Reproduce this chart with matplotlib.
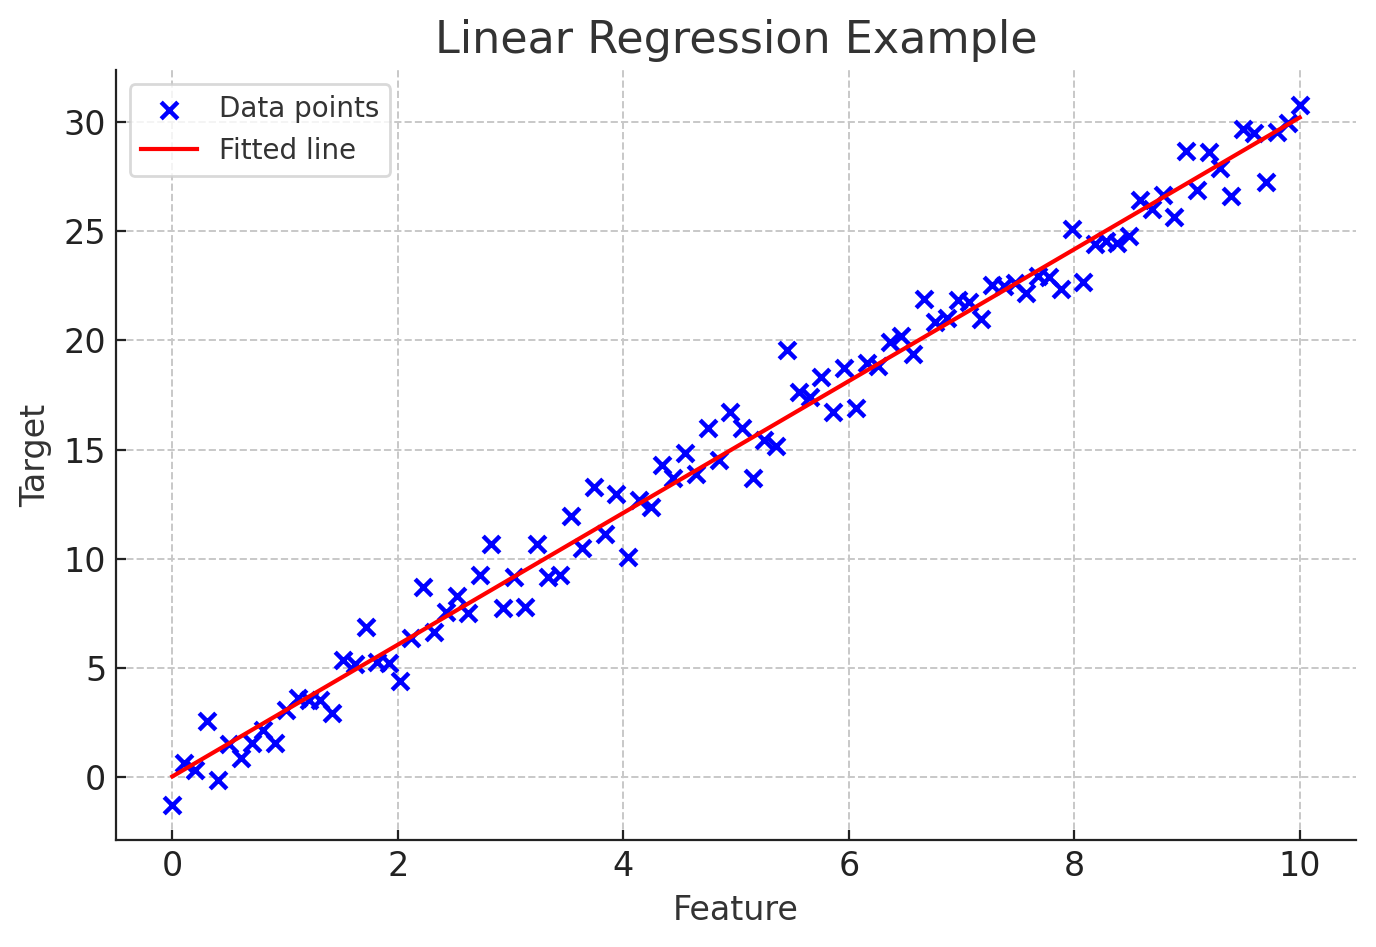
import numpy as np
import matplotlib
matplotlib.use("Agg")
import matplotlib.pyplot as plt

x_start, x_end, n_points = 0.0, 10.0, 100
target = [
    -1.28, 0.64, 0.32, 2.57, -0.14, 1.51, 0.87, 1.56, 2.15, 1.56,
    3.07, 3.62, 3.53, 3.53, 2.93, 5.36, 5.18, 6.87, 5.27, 5.22,
    4.40, 6.37, 8.70, 6.64, 7.56, 8.29, 7.51, 9.25, 10.67, 7.74,
    9.16, 7.79, 10.67, 9.16, 9.25, 11.96, 10.49, 13.28, 11.13, 12.96,
    10.08, 12.69, 12.37, 14.29, 13.70, 14.84, 13.88, 15.99, 14.52, 16.72,
    15.99, 13.70, 15.44, 15.16, 19.56, 17.64, 17.41, 18.32, 16.72, 18.74,
    16.90, 18.97, 18.83, 19.93, 20.20, 19.38, 21.90, 20.84, 21.03, 21.85,
    21.76, 20.98, 22.54, 22.49, 22.63, 22.17, 22.95, 22.90, 22.35, 25.10,
    22.67, 24.42, 24.55, 24.46, 24.78, 26.43, 26.02, 26.66, 25.65, 28.68,
    26.89, 28.63, 27.90, 26.61, 29.68, 29.50, 27.26, 29.55, 29.96, 30.78,
]
feature = np.linspace(x_start, x_end, n_points)
target = np.array(target)

slope, intercept = np.polyfit(feature, target, 1)
fitted = slope * feature + intercept

text_color = "#333333"
fig = plt.figure(figsize=(6.88, 4.735), dpi=200)
ax = fig.add_axes([0.0843, 0.113, 0.9012, 0.813])

ax.scatter(feature, target, marker="x", color="blue", s=36, linewidths=1.6,
           label="Data points", zorder=3)
ax.plot(feature, fitted, color="red", linewidth=1.5, label="Fitted line", zorder=4)

ax.set_title("Linear Regression Example", fontsize=16, color=text_color)
ax.set_xlabel("Feature", fontsize=12, color=text_color)
ax.set_ylabel("Target", fontsize=12, color=text_color)
ax.tick_params(labelsize=12, labelcolor="#222222", color="#222222",
               direction="in", length=3.5, width=0.8)
ax.grid(True, linestyle="--", color="#c8c8c8", linewidth=0.7)
ax.set_axisbelow(True)
for s in ["top", "right"]:
    ax.spines[s].set_visible(False)
for s in ["left", "bottom"]:
    ax.spines[s].set_color("#222222")
ax.set_xticks([0, 2, 4, 6, 8, 10])
ax.set_yticks([0, 5, 10, 15, 20, 25, 30])

leg = ax.legend(loc="upper left", fontsize=10, frameon=True, fancybox=True)
leg.get_frame().set_edgecolor("#d0d0d0")
for t in leg.get_texts():
    t.set_color(text_color)

fig.savefig("out.png", dpi=200)
